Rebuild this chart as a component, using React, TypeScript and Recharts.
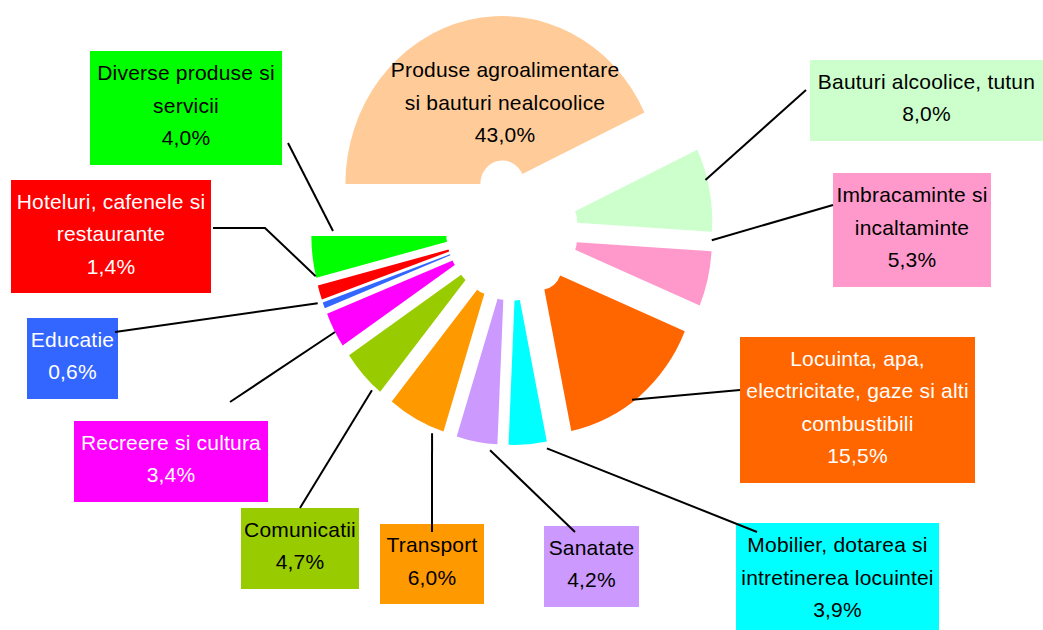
import { Pie, PieChart, Sector, Cell } from "recharts";

// spending structure, % of total consumption
const categories = [
  "Produse agroalimentare si bauturi nealcoolice",
  "Bauturi alcoolice, tutun",
  "Imbracaminte si incaltaminte",
  "Locuinta, apa, electricitate, gaze si alti combustibili",
  "Mobilier, dotarea si intretinerea locuintei",
  "Sanatate",
  "Transport",
  "Comunicatii",
  "Recreere si cultura",
  "Educatie",
  "Hoteluri, cafenele si restaurante",
  "Diverse produse si servicii",
];
const shares = [43.0, 8.0, 5.3, 15.5, 3.9, 4.2, 6.0, 4.7, 3.4, 0.6, 1.4, 4.0];

// how each label is broken into lines
const labelText = [
  ["Produse agroalimentare", "si bauturi nealcoolice"],
  ["Bauturi alcoolice, tutun"],
  ["Imbracaminte si", "incaltaminte"],
  ["Locuinta, apa,", "electricitate, gaze si alti", "combustibili"],
  ["Mobilier, dotarea si", "intretinerea locuintei"],
  ["Sanatate"],
  ["Transport"],
  ["Comunicatii"],
  ["Recreere si cultura"],
  ["Educatie"],
  ["Hoteluri, cafenele si", "restaurante"],
  ["Diverse produse si", "servicii"],
];

const colors = [
  "#ffcc99", "#ccffcc", "#ff99cc", "#ff6600", "#00ffff", "#cc99ff",
  "#ff9900", "#99cc00", "#ff00ff", "#3366ff", "#ff0000", "#00ff00",
];
const textColors = [
  "#000", "#000", "#000", "#fff", "#000", "#000",
  "#000", "#000", "#fff", "#fff", "#fff", "#000",
];

// label boxes placed by hand, like in the original sheet.
// tilt / reach: where the leader line touches the slice (deg off the mid angle, radius)
type Box = {
  x: number; y: number; w: number; h: number;
  from?: [number, number]; elbow?: [number, number];
  tilt?: number; reach?: number; plain?: boolean;
};
const boxes: Box[] = [
  { x: 405, y: 48, w: 200, h: 114, plain: true },
  { x: 810, y: 60, w: 233, h: 81, from: [806, 90], tilt: 2.8, reach: 199 },
  { x: 833, y: 173, w: 158, h: 114, from: [833, 205], tilt: 10.4, reach: 200 },
  { x: 740, y: 337, w: 235, h: 146, from: [740, 390], tilt: -2.3, reach: 199 },
  { x: 736, y: 523, w: 203, h: 114, from: [757, 532], tilt: 5.2, reach: 207 },
  { x: 544, y: 526, w: 95, h: 81, from: [575, 532], tilt: 4, reach: 207 },
  { x: 380, y: 524, w: 104, h: 80, from: [432, 532], tilt: 5.6, reach: 206 },
  { x: 241, y: 508, w: 118, h: 81, from: [300, 508], tilt: 4.6, reach: 205 },
  { x: 74, y: 421, w: 194, h: 81, from: [230, 402], tilt: 0.6, reach: 201 },
  { x: 27, y: 318, w: 91, h: 81, from: [115, 332], tilt: -1.1, reach: 206 },
  { x: 11, y: 180, w: 200, h: 113, from: [213, 228], elbow: [265, 228], tilt: -4.5, reach: 201 },
  { x: 90, y: 51, w: 192, h: 114, from: [288, 143], tilt: -6.9, reach: 179 },
];

const data = categories.map((name, i) => ({ name, value: shares[i] }));

const EXPLODE = 44;
const STRETCH = 1.07;
const LINE_H = 32.5;
const font = "'Liberation Sans', Arial, sans-serif";

const fmt = (v: number) => v.toFixed(1).replace(".", ",") + "%";

function ExplodedSector(props: any) {
  const { cx, cy, midAngle } = props;
  const rad = (midAngle * Math.PI) / 180;
  const dx = EXPLODE * Math.cos(rad);
  const dy = -EXPLODE * Math.sin(rad);
  return (
    <g transform={`translate(0 ${cy}) scale(1 ${STRETCH}) translate(0 ${-cy})`}>
      <Sector {...props} cx={cx + dx} cy={cy + dy} stroke="none" />
    </g>
  );
}

function renderLabel(props: any) {
  const { cx, cy, midAngle, outerRadius, index, value } = props;
  const b = boxes[index];
  const lines = [...labelText[index], fmt(value)];
  const rad = ((midAngle + (b.tilt ?? 0)) * Math.PI) / 180;
  const r = b.reach ?? EXPLODE + outerRadius;
  const ax = cx + r * Math.cos(rad);
  const ay = cy - r * STRETCH * Math.sin(rad);
  const top = b.y + (b.h - (lines.length - 1) * LINE_H) / 2 - 3;
  const pts = b.from
    ? [b.from, ...(b.elbow ? [b.elbow] : []), [ax, ay]].map((p) => p.join(",")).join(" ")
    : "";
  return (
    <g key={`lbl-${index}`}>
      {!b.plain && <rect x={b.x} y={b.y} width={b.w} height={b.h} fill={colors[index]} />}
      {pts && <polyline points={pts} fill="none" stroke="#000" strokeWidth={2} />}
      {lines.map((t, k) => (
        <text
          key={k}
          x={b.x + b.w / 2}
          y={top + k * LINE_H}
          textAnchor="middle"
          dominantBaseline="central"
          fontFamily={font}
          fontSize={21}
          letterSpacing={0.2}
          fill={textColors[index]}
        >
          {t}
        </text>
      ))}
    </g>
  );
}

export default function App() {
  return (
    <div style={{ position: "absolute", left: 0, top: 0, width: 1043, height: 630, background: "#fff" }}>
      <PieChart width={1043} height={630} margin={{ top: 0, right: 0, bottom: 0, left: 0 }}>
        <Pie
          data={data}
          dataKey="value"
          nameKey="name"
          cx={512}
          cy={230}
          innerRadius={22}
          outerRadius={157}
          startAngle={180}
          endAngle={-180}
          stroke="none"
          shape={ExplodedSector}
          label={renderLabel}
          labelLine={false}
          isAnimationActive={false}
        >
          {data.map((d, i) => (
            <Cell key={d.name} fill={colors[i]} />
          ))}
        </Pie>
      </PieChart>
    </div>
  );
}
